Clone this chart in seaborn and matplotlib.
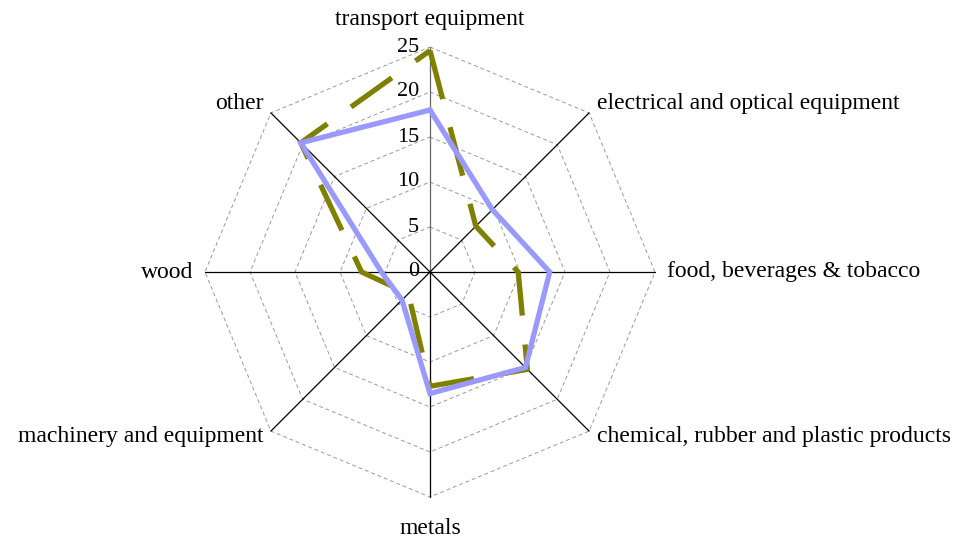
import numpy as np
import pandas as pd
import matplotlib
matplotlib.use("Agg")
import matplotlib.pyplot as plt
import seaborn as sns

# Categories, clockwise from the top
categories = ["transport equipment", "electrical and optical equipment",
              "food, beverages & tobacco", "chemical, rubber and plastic products",
              "metals", "machinery and equipment", "wood", "other"]
series_a = [24.6, 7.2, 9.8, 15.3, 12.7, 3.4, 7.6, 20.3]   # olive, dashed
series_b = [18.0, 9.8, 13.3, 15.0, 13.5, 4.4, 5.4, 20.3]  # light blue, solid
ticks = [0, 5, 10, 15, 20, 25]
r_max = 25

sns.set_theme(style="white")
plt.rcParams['font.family'] = ['Liberation Serif', 'DejaVu Serif']
plt.rcParams['text.color'] = 'black'

n = len(categories)
theta = np.arange(n) * 2 * np.pi / n


def to_xy(values):
    v = np.asarray(values + values[:1], dtype=float)
    t = np.append(theta, theta[0])
    return v * np.sin(t), v * np.cos(t)


fig = plt.figure(figsize=(9.62, 5.39), dpi=100)
ax = fig.add_axes([0, 0, 1, 1])
ax.set_xlim(-430 / 9, 532 / 9)
ax.set_ylim(-267 / 9, 272 / 9)
ax.axis("off")

# polygon grid rings
for r in ticks[1:]:
    gx, gy = to_xy([r] * n)
    ax.plot(gx, gy, color="#999999", lw=0.7, ls=(0, (4, 3)), zorder=1)

# spokes
for i, t in enumerate(theta):
    col = "#666666" if i == 0 else "black"
    ax.plot([0, r_max * np.sin(t)], [0, r_max * np.cos(t)], color=col, lw=0.9, zorder=2)

# tick labels along the vertical spoke
for r in ticks:
    ax.text(-1.2, r, str(r), ha="right", va="center", fontsize=16, zorder=3)

# category labels
for name, t in zip(categories, theta):
    s, c = np.sin(t), np.cos(t)
    if abs(s) < 1e-6:
        off = 3.1 if c > 0 else 3.5
        ax.text(0, (r_max + off) * np.sign(c), name, ha="center", va="center", fontsize=17)
    elif abs(c) < 1e-6:
        ax.text((r_max + 1.3) * np.sign(s), 0, name, ha="left" if s > 0 else "right",
                va="center", fontsize=17)
    else:
        rr = r_max + 1.2
        ax.text(rr * s, rr * c + 0.2, name, ha="left" if s > 0 else "right",
                va="center", fontsize=17)

# data series
xa, ya = to_xy(series_a)
xb, yb = to_xy(series_b)
df_a = pd.DataFrame({"x": xa, "y": ya})
df_b = pd.DataFrame({"x": xb, "y": yb})
sns.lineplot(data=df_a, x="x", y="y", sort=False, estimator=None, ax=ax,
             color="#808000", lw=3.8, zorder=4)
ax.lines[-1].set_dashes((9.5, 5.5))
ax.lines[-1].set_dash_capstyle("butt")
sns.lineplot(data=df_b, x="x", y="y", sort=False, estimator=None, ax=ax,
             color="#9999ff", lw=3.8, zorder=5)
ax.lines[-1].set_solid_joinstyle("miter")

fig.savefig("out.png", dpi=100)
